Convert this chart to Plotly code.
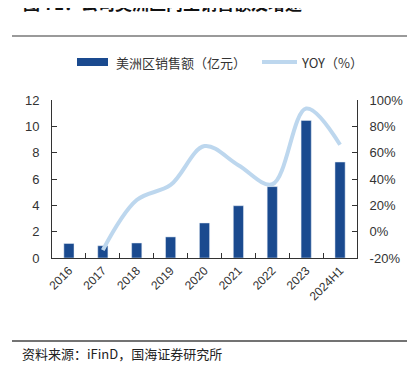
import plotly.graph_objects as go

categories = ["2016", "2017", "2018", "2019", "2020", "2021", "2022", "2023", "2024H1"]
sales = [1.1, 0.93, 1.14, 1.6, 2.66, 3.97, 5.42, 10.45, 7.29]
yoy = [None, -14, 24, 35.5, 65, 50.5, 36, 93.5, 66]
left_ticks = [0, 2, 4, 6, 8, 10, 12]
right_ticks = [-20, 0, 20, 40, 60, 80, 100]
right_labels = ["-20%", "0%", "20%", "40%", "60%", "80%", "100%"]

OFF = 8  # page body margin
W, H = 415 - OFF, 367 - OFF
# plot area in window pixels: x 52..357, y 100..258
L = 52 - OFF
T = 100 - OFF
R = W - (357 - OFF)
B = H - (258 - OFF)
PW = W - L - R
PH = H - T - B

def px(x):
    # window pixel x -> paper
    return (x - OFF - L) / PW

def py(y):
    # window pixel y -> paper
    return (H - B - (y - OFF)) / PH

BAR = "#1A4A8F"
LINE = "#BDD7EE"
CJK = "Noto Sans CJK SC"
NUM = "Liberation Sans"

fig = go.Figure()
fig.add_trace(go.Bar(x=categories, y=sales, marker_color=BAR, width=0.3,
                     name="美洲区销售额（亿元）", yaxis="y"))
fig.add_trace(go.Scatter(x=categories, y=yoy, mode="lines",
                         line=dict(color=LINE, width=4, shape="spline", smoothing=1.0),
                         name="YOY（%）", yaxis="y2", connectgaps=False))

fig.update_layout(
    width=W, height=H,
    margin=dict(l=L, r=R, t=T, b=B),
    paper_bgcolor="white", plot_bgcolor="white",
    showlegend=False,
    font=dict(family=NUM, size=12, color="#333333"),
    xaxis=dict(showline=True, linecolor="#333333", linewidth=1,
               ticks="inside", tickson="boundaries", ticklen=5, tickcolor="#333333",
               tickangle=-45, tickfont=dict(family=NUM, size=12, color="#333333"),
               showgrid=False, zeroline=False),
    yaxis=dict(range=[0, 12], tickvals=left_ticks, showline=True, linecolor="#333333",
               ticks="inside", ticklen=5, tickcolor="#333333", showgrid=False, zeroline=False,
               ticklabelstandoff=9,
               tickfont=dict(family=NUM, size=13, color="#333333")),
    yaxis2=dict(range=[-20, 100], tickvals=right_ticks, ticktext=right_labels,
                overlaying="y", side="right", showline=True, linecolor="#333333",
                ticks="inside", ticklen=5, tickcolor="#333333", showgrid=False, zeroline=False,
                ticklabelstandoff=9,
                tickfont=dict(family=NUM, size=13, color="#333333")),
)

shapes = [
    dict(type="line", xref="paper", yref="paper", x0=px(12), x1=px(412), y0=py(36), y1=py(36),
         line=dict(color="#9A9A9A", width=2)),
    dict(type="line", xref="paper", yref="paper", x0=px(12), x1=px(412), y0=py(341), y1=py(341),
         line=dict(color="#444444", width=1.5)),
    dict(type="rect", xref="paper", yref="paper", x0=px(77), x1=px(108), y0=py(66), y1=py(58),
         fillcolor=BAR, line=dict(width=0)),
    dict(type="line", xref="paper", yref="paper", x0=px(262), x1=px(297), y0=py(62), y1=py(62),
         line=dict(color=LINE, width=4)),
]
annotations = [
    dict(text="<b>图 71：公司美洲区内生销售额及增速</b>", xref="paper", yref="paper",
         x=px(21), y=py(2), xanchor="left", yanchor="middle", showarrow=False,
         font=dict(family=CJK, size=17, color="#111111")),
    dict(text="美洲区销售额（亿元）", xref="paper", yref="paper", x=px(114), y=py(62),
         xanchor="left", yanchor="middle", showarrow=False,
         font=dict(family=CJK, size=13, color="#333333")),
    dict(text="YOY（%）", xref="paper", yref="paper", x=px(299), y=py(62),
         xanchor="left", yanchor="middle", showarrow=False,
         font=dict(family=CJK, size=13, color="#333333")),
    dict(text="资料来源：iFinD，国海证券研究所", xref="paper", yref="paper", x=px(20), y=py(353),
         xanchor="left", yanchor="middle", showarrow=False,
         font=dict(family=CJK, size=13, color="#222222")),
]
fig.update_layout(shapes=shapes, annotations=annotations)
fig.write_html("out.html")
